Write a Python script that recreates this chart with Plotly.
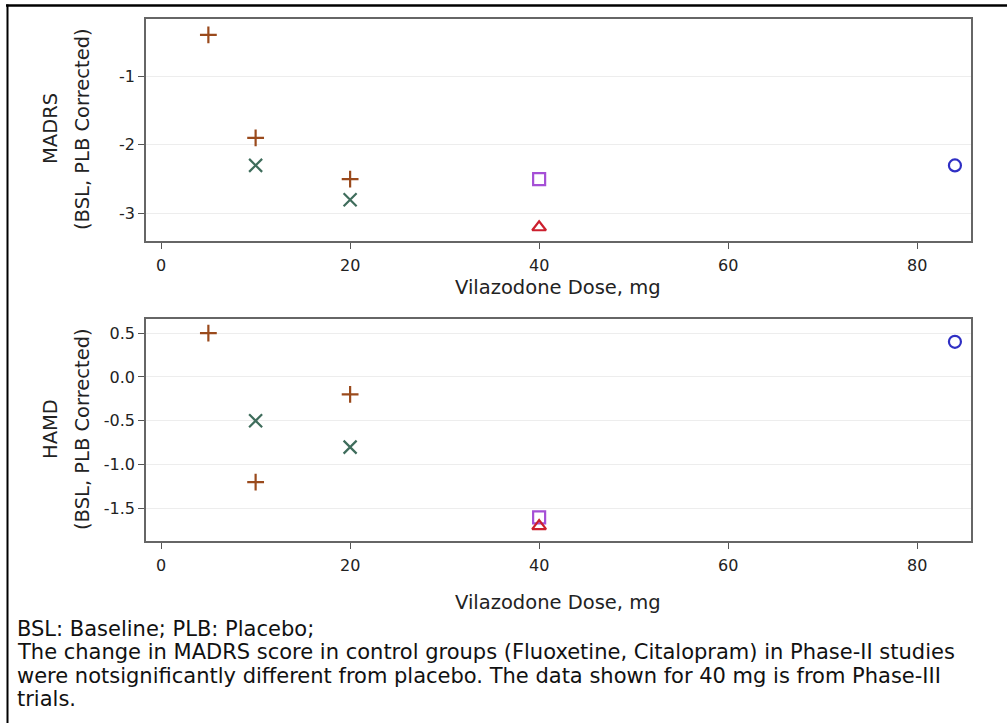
import plotly.graph_objects as go
from plotly.subplots import make_subplots

W, H = 1007, 723

# Vilazodone dose (mg) and placebo-corrected change from baseline, by study group
phase2_dose = [5, 10, 20]
phase2_a_madrs = [-0.4, -1.9, -2.5]
phase2_a_hamd = [0.5, -1.2, -0.2]

phase2_b_dose = [10, 20]
phase2_b_madrs = [-2.3, -2.8]
phase2_b_hamd = [-0.5, -0.8]

phase3_dose = [40]
phase3_a_madrs = [-2.5]
phase3_a_hamd = [-1.6]
phase3_b_madrs = [-3.2]
phase3_b_hamd = [-1.7]

high_dose = [84]
high_madrs = [-2.3]
high_hamd = [0.4]

x_ticks = [0, 20, 40, 60, 80]
madrs_ticks = [-1, -2, -3]
madrs_labels = ["-1", "-2", "-3"]
hamd_ticks = [0.5, 0.0, -0.5, -1.0, -1.5]
hamd_labels = ["0.5", "0.0", "-0.5", "-1.0", "-1.5"]

footnote_lines = [
    "BSL: Baseline; PLB: Placebo;",
    "The change in MADRS score in control groups (Fluoxetine, Citalopram) in Phase-II studies",
    "were notsignificantly different from placebo. The data shown for 40 mg is from Phase-III",
    "trials.",
]

FONT = "DejaVu Sans, Verdana, sans-serif"
BROWN = "#9a4a1c"
GREEN = "#3f6d5c"
VIOLET = "#a54fd6"
RED = "#cc1f2e"
BLUE = "#2f2fc4"

fig = make_subplots(rows=2, cols=1)

series = [
    (phase2_dose, phase2_a_madrs, phase2_a_hamd, "cross-thin", BROWN, 12),
    (phase2_b_dose, phase2_b_madrs, phase2_b_hamd, "x-thin", GREEN, 13),
    (phase3_dose, phase3_a_madrs, phase3_a_hamd, "square-open", VIOLET, 12),
    (phase3_dose, phase3_b_madrs, phase3_b_hamd, "triangle-up-open", RED, 12),
    (high_dose, high_madrs, high_hamd, "circle-open", BLUE, 12),
]
for xs, ym, yh, sym, col, sz in series:
    for row, ys in ((1, ym), (2, yh)):
        fig.add_trace(go.Scatter(
            x=xs, y=ys, mode="markers", showlegend=False,
            marker=dict(symbol=sym, size=sz, color=col, line=dict(color=col, width=2.2)),
        ), row=row, col=1)

def px_x(p):
    return p / W

def px_y(p):
    return 1 - p / H

axis_common = dict(
    showline=True, linecolor="#666666", linewidth=1.5, mirror=True,
    ticks="outside", ticklen=6, tickwidth=1, tickcolor="#555555",
    tickfont=dict(family=FONT, size=16, color="#222222"),
    zeroline=False,
)

x_dom = [px_x(146), px_x(971)]
fig.update_layout(
    width=W, height=H,
    margin=dict(l=0, r=0, t=0, b=0),
    paper_bgcolor="white", plot_bgcolor="white",
    font=dict(family=FONT, color="#222222"),
    xaxis=dict(domain=x_dom, anchor="y", range=[-1.6, 85.7], ticklabelstandoff=3,
               tickvals=x_ticks, showgrid=False, **axis_common),
    yaxis=dict(domain=[px_y(241), px_y(19)], anchor="x", range=[-3.4, -0.17],
               tickvals=madrs_ticks, ticktext=madrs_labels, showgrid=True,
               gridcolor="#ededed", gridwidth=1, **axis_common),
    xaxis2=dict(domain=x_dom, anchor="y2", range=[-1.6, 85.7], ticklabelstandoff=3,
                tickvals=x_ticks, showgrid=False, **axis_common),
    yaxis2=dict(domain=[px_y(541), px_y(319)], anchor="x2", range=[-1.87, 0.66],
                tickvals=hamd_ticks, ticktext=hamd_labels, showgrid=True,
                gridcolor="#ededed", gridwidth=1, **axis_common),
)

TITLE_FONT = dict(family=FONT, size=19.5, color="#222222")
annotations = []
# axis titles
for yc in (288, 602):
    annotations.append(dict(
        x=px_x(558), y=px_y(yc), xref="paper", yref="paper",
        text="Vilazodone Dose, mg", showarrow=False,
        xanchor="center", yanchor="middle", font=TITLE_FONT,
    ))
for label, yc in (("MADRS", 129), ("HAMD", 429)):
    for text, xc in ((label, 50), ("(BSL, PLB Corrected)", 82)):
        annotations.append(dict(
            x=px_x(xc), y=px_y(yc), xref="paper", yref="paper",
            text=text, showarrow=False, textangle=-90,
            xanchor="center", yanchor="middle", font=TITLE_FONT,
        ))
# footnote
for i, line in enumerate(footnote_lines):
    annotations.append(dict(
        x=px_x(15), y=px_y(629 + i * 23.3), xref="paper", yref="paper",
        text=line, showarrow=False, xanchor="left", yanchor="middle",
        font=dict(family=FONT, size=21, color="#111111"),
    ))
fig.update_layout(annotations=annotations)

# page frame lines
fig.add_shape(type="line", xref="paper", yref="paper",
              x0=px_x(6), x1=1, y0=px_y(5.5), y1=px_y(5.5),
              line=dict(color="black", width=2.5))
fig.add_shape(type="line", xref="paper", yref="paper",
              x0=px_x(7.5), x1=px_x(7.5), y0=0, y1=px_y(4.5),
              line=dict(color="black", width=2))

fig.write_html("out.html")
